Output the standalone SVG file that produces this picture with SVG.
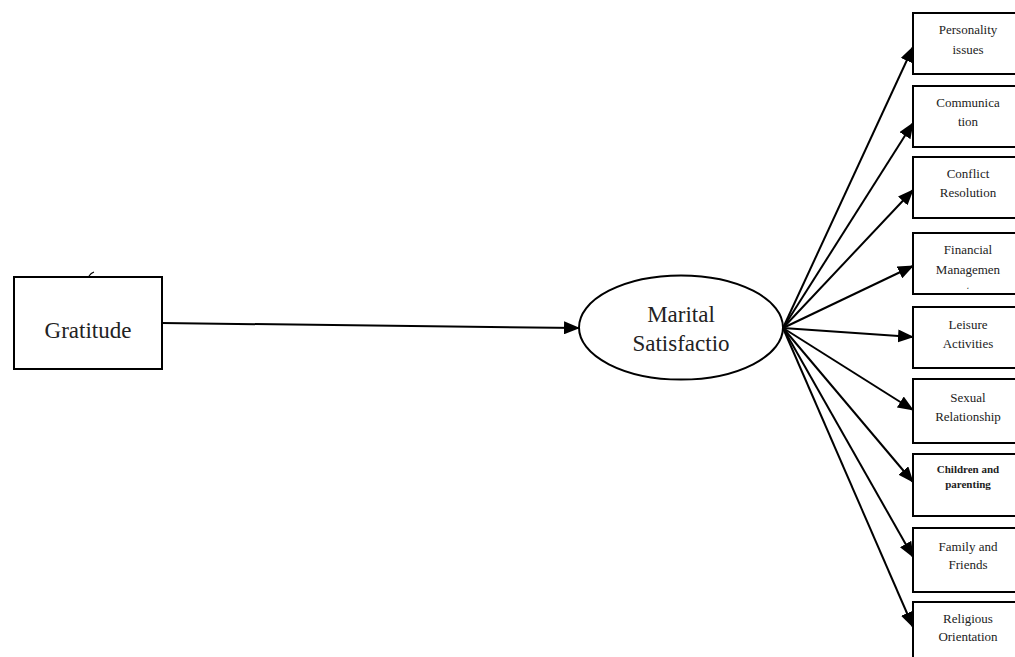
<svg xmlns="http://www.w3.org/2000/svg" width="1015" height="657" viewBox="0 0 1015 657">
<style>
.box{fill:#fff;stroke:#000;stroke-width:2}
.t{font-family:"Liberation Serif","Times New Roman",serif;fill:#222;text-anchor:middle}
.s{font-size:13px}
.big{font-size:23px}
.edge{stroke:#000;stroke-width:2;fill:none;marker-end:url(#ah)}
</style>
<defs>
<marker id="ah" markerWidth="16" markerHeight="13" refX="15" refY="6.5" orient="auto" markerUnits="userSpaceOnUse">
<path d="M0,0 L16,6.5 L0,13 Z" fill="#000"/>
</marker>
<clipPath id="c4"><rect x="913" y="233" width="110" height="56"/></clipPath>
</defs>
<rect width="1015" height="657" fill="#fff"/>
<g id="connectors">
<line class="edge" x1="162" y1="323" x2="579" y2="328"/>
<line class="edge" x1="783" y1="328" x2="913" y2="47"/>
<line class="edge" x1="783" y1="328" x2="913" y2="123"/>
<line class="edge" x1="783" y1="328" x2="913" y2="190"/>
<line class="edge" x1="783" y1="328" x2="913" y2="266"/>
<line class="edge" x1="783" y1="328" x2="913" y2="337"/>
<line class="edge" x1="783" y1="328" x2="913" y2="410"/>
<line class="edge" x1="783" y1="328" x2="913" y2="482"/>
<line class="edge" x1="783" y1="328" x2="913" y2="557"/>
<line class="edge" x1="783" y1="328" x2="913" y2="627"/>
</g>
<g id="gratitude">
<rect class="box" x="14" y="277" width="148" height="92"/>
<path d="M89,276 Q91,273 94,272" stroke="#000" stroke-width="1.2" fill="none"/>
<text class="t big" x="88" y="338">Gratitude</text>
</g>
<g id="marital">
<ellipse cx="681" cy="327.5" rx="102" ry="52" fill="#fff" stroke="#000" stroke-width="2"/>
<text class="t big" x="681" y="322">Marital</text>
<text class="t big" x="681" y="351">Satisfactio</text>
</g>
<g id="personality">
<rect class="box" x="913" y="13" width="110" height="61"/>
<text class="t s" x="968" y="34">Personality</text>
<text class="t s" x="968" y="54">issues</text>
</g>
<g id="communication">
<rect class="box" x="913" y="86" width="110" height="61"/>
<text class="t s" x="968" y="107">Communica</text>
<text class="t s" x="968" y="126">tion</text>
</g>
<g id="conflict">
<rect class="box" x="913" y="157" width="110" height="61"/>
<text class="t s" x="968" y="178">Conflict</text>
<text class="t s" x="968" y="197">Resolution</text>
</g>
<g id="financial">
<rect class="box" x="913" y="233" width="110" height="61"/>
<text class="t s" x="968" y="254">Financial</text>
<text class="t s" x="968" y="274">Managemen</text>
<text class="t s" x="968" y="295" clip-path="url(#c4)">t</text>
</g>
<g id="leisure">
<rect class="box" x="913" y="307" width="110" height="61"/>
<text class="t s" x="968" y="329">Leisure</text>
<text class="t s" x="968" y="348">Activities</text>
</g>
<g id="sexual">
<rect class="box" x="913" y="379" width="110" height="64"/>
<text class="t s" x="968" y="402">Sexual</text>
<text class="t s" x="968" y="421">Relationship</text>
</g>
<g id="children">
<rect class="box" x="913" y="454" width="110" height="62"/>
<text class="t" x="968" y="473" style="font-size:11px;font-weight:bold">Children and</text>
<text class="t" x="968" y="488" style="font-size:11px;font-weight:bold">parenting</text>
</g>
<g id="family">
<rect class="box" x="913" y="528" width="110" height="64"/>
<text class="t s" x="968" y="551">Family and</text>
<text class="t s" x="968" y="569">Friends</text>
</g>
<g id="religious">
<rect class="box" x="913" y="602" width="110" height="70"/>
<text class="t s" x="968" y="623">Religious</text>
<text class="t s" x="968" y="641">Orientation</text>
</g>
</svg>
